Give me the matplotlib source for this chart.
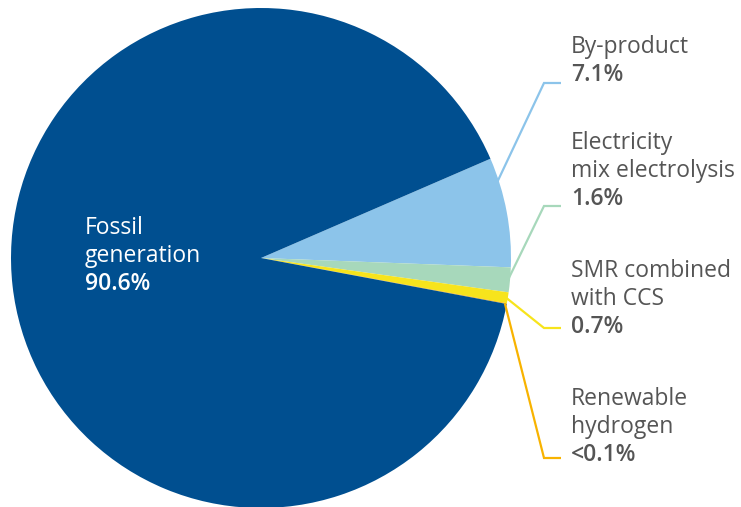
import numpy as np
import matplotlib as mpl
mpl.use('Agg')
from matplotlib import pyplot as plt

plt.rcParams['font.family'] = ['Open Sans', 'DejaVu Sans']

# hydrogen production routes, share in percent (clockwise from the by-product wedge)
names = [['By-product'], ['Electricity', 'mix electrolysis'], ['SMR combined', 'with CCS'],
         ['Renewable', 'hydrogen'], ['Fossil', 'generation']]
shares = [7.1, 1.6, 0.7, 0.05, 90.6]
value_labels = ['7.1%', '1.6%', '0.7%', '<0.1%', '90.6%']
colors = ['#8cc4ea', '#a7d8bb', '#f7e41c', '#f8b300', '#004f90']

# where each leader line leaves its wedge (fraction of the wedge span)
anchor_frac = [0.22, 0.5, 0.5, 0.5]
# first text line and elbow y positions, pixels from the top
label_top = [47, 143, 271, 399, 228]
elbow_y = [83, 206, 328, 458]

W, H = 741, 507
fig = plt.figure(figsize=(W / 100, H / 100), dpi=100)
ax = fig.add_axes([0, 0, 1, 1])

cx, cy, r = 261, H - 258, 250
wedges, _ = ax.pie(shares, colors=colors, startangle=23.4, counterclock=False,
                   center=(cx, cy), radius=r, frame=True,
                   wedgeprops=dict(linewidth=0))
ax.set_xlim(0, W)
ax.set_ylim(0, H)
ax.set_aspect('equal')
ax.axis('off')

text_col = '#555555'
fs = 16.5
lh = 27.8


def label_block(x, y_top, lines, value, col):
    for k, s in enumerate(lines):
        ax.text(x, H - (y_top + k * lh), s, color=col, fontsize=fs,
                va='center', ha='left')
    ax.text(x, H - (y_top + len(lines) * lh), value, color=col, fontsize=fs,
            fontweight='semibold', va='center', ha='left')


for i in range(4):
    w = wedges[i]
    t1, t2 = w.theta1, w.theta2
    ang = np.deg2rad(t2 - anchor_frac[i] * (t2 - t1))
    px = cx + (r - 2) * np.cos(ang)
    py = cy + (r - 2) * np.sin(ang)
    ey = H - elbow_y[i]
    ax.plot([px, 544, 561], [py, ey, ey], color=colors[i], lw=1.6,
            solid_capstyle='butt', solid_joinstyle='miter')
    label_block(571, label_top[i], names[i], value_labels[i], text_col)

label_block(85, label_top[4], names[4], value_labels[4], 'white')

fig.savefig('out.png', dpi=100)
